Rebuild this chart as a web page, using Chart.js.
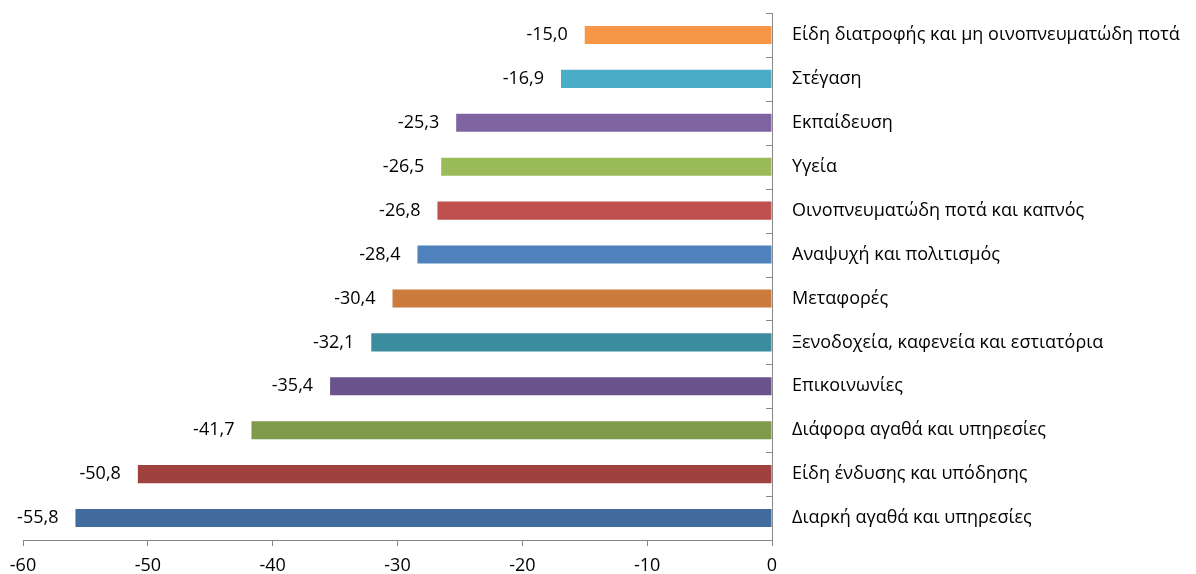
<!DOCTYPE html>
<html>
<head>
<meta charset="utf-8">
<script src="https://cdn.jsdelivr.net/npm/chart.js@4"></script>
<style>
  html, body { margin: 0; padding: 0; background: #fff; }
  #wrap { width: 1196px; height: 574px; }
</style>
</head>
<body>
<div id="wrap"><canvas id="myChart"></canvas></div>
<script>
var categories = [
  "Είδη διατροφής και μη οινοπνευματώδη ποτά",
  "Στέγαση",
  "Εκπαίδευση",
  "Υγεία",
  "Οινοπνευματώδη ποτά και καπνός",
  "Αναψυχή και πολιτισμός",
  "Μεταφορές",
  "Ξενοδοχεία, καφενεία και εστιατόρια",
  "Επικοινωνίες",
  "Διάφορα αγαθά και υπηρεσίες",
  "Είδη ένδυσης και υπόδησης",
  "Διαρκή αγαθά και υπηρεσίες"
];
var changes = [-15.0, -16.9, -25.3, -26.5, -26.8, -28.4, -30.4, -32.1, -35.4, -41.7, -50.8, -55.8];
var xTicks = [-60, -50, -40, -30, -20, -10, 0];

var barColors = ["#F79646", "#4BACC6", "#8064A2", "#9BBB59", "#C0504D", "#4F81BD",
                 "#CD7B3C", "#3C8CA0", "#69538A", "#7E9A4A", "#9E413F", "#426B9E"];
var FONT = "'Open Sans', sans-serif";

// value labels at the end of each bar
var valueLabels = {
  id: 'valueLabels',
  afterDatasetsDraw: function(chart) {
    var ctx = chart.ctx;
    var meta = chart.getDatasetMeta(0);
    ctx.save();
    ctx.font = "18px " + FONT;
    ctx.fillStyle = "#000";
    ctx.textAlign = "right";
    ctx.textBaseline = "middle";
    meta.data.forEach(function(bar, i) {
      var txt = changes[i].toFixed(1).replace('.', ',');
      ctx.fillText(txt, bar.x - 17, bar.y);
    });
    ctx.restore();
  }
};

// small tick marks on the inner side of the category axis
var innerTicks = {
  id: 'innerTicks',
  afterDraw: function(chart) {
    var ctx = chart.ctx;
    var y = chart.scales.y;
    var x0 = chart.chartArea.right;
    var n = categories.length;
    ctx.save();
    ctx.strokeStyle = "#868686";
    ctx.lineWidth = 1;
    ctx.beginPath();
    for (var i = 0; i <= n; i++) {
      var py = Math.round(y.getPixelForValue(i - 0.5)) + 0.5;
      ctx.moveTo(x0 - 6, py);
      ctx.lineTo(x0, py);
    }
    ctx.stroke();
    ctx.restore();
  }
};

var ctx = document.getElementById('myChart').getContext('2d');
var myChart = new Chart(ctx, {
  type: 'bar',
  data: {
    labels: categories,
    datasets: [{
      data: changes,
      backgroundColor: barColors,
      borderWidth: 0,
      barPercentage: 0.41,
      categoryPercentage: 1
    }]
  },
  options: {
    indexAxis: 'y',
    responsive: true,
    maintainAspectRatio: false,
    animation: false,
    layout: { padding: { top: 13, left: 23, right: 0, bottom: 0 } },
    plugins: {
      legend: { display: false },
      tooltip: { enabled: false }
    },
    scales: {
      x: {
        min: -60,
        max: 0,
        afterBuildTicks: function(scale) {
          scale.ticks = xTicks.map(function(v) { return { value: v }; });
        },
        afterFit: function(scale) { scale.height = 34; },
        grid: { drawOnChartArea: false, drawTicks: true, tickLength: 6, color: "#868686" },
        border: { color: "#868686", width: 1 },
        ticks: { color: "#000", font: { family: FONT, size: 18 }, padding: 9 }
      },
      y: {
        position: 'right',
        afterFit: function(scale) {
          scale.width = 424;
          scale.paddingTop = 0;
          scale.paddingBottom = 0;
        },
        grid: { display: false },
        border: { color: "#868686", width: 1 },
        ticks: { color: "#000", font: { family: FONT, size: 18 }, padding: 12 }
      }
    }
  },
  plugins: [valueLabels, innerTicks]
});
</script>
</body>
</html>
